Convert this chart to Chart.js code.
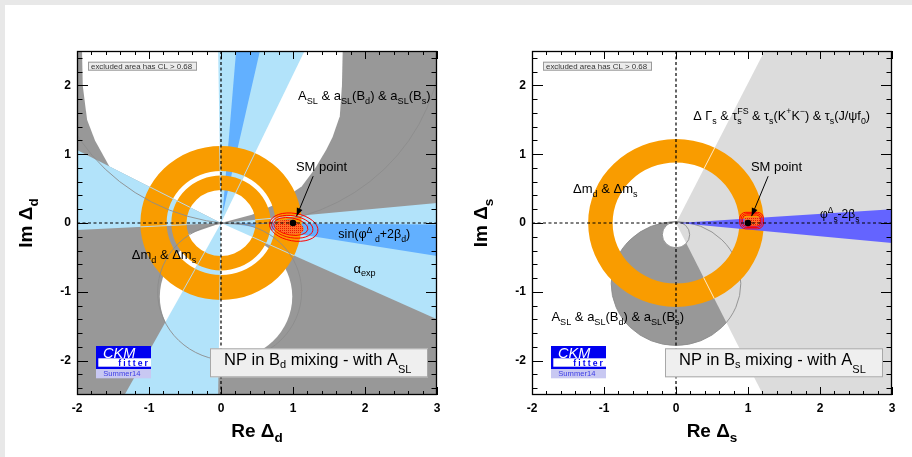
<!DOCTYPE html>
<html>
<head>
<meta charset="utf-8">
<script src="https://cdn.jsdelivr.net/npm/chart.js@4/dist/chart.umd.min.js"></script>
<style>
  html, body { margin: 0; padding: 0; background: #e8e8e8; }
  #sheet { position: absolute; left: 5px; top: 5px; width: 907px; height: 452px; background: #fff; }
  canvas { position: absolute; top: 0; }
  #bd { left: 0; }
  #bs { left: 455px; }
</style>
</head>
<body>
<div id="sheet"></div>
<canvas id="bd" width="456" height="457"></canvas>
<canvas id="bs" width="456" height="457"></canvas>
<script>
// ---- axes ----
const xTicks = [-2, -1, 0, 1, 2, 3];
const yTicks = [-2, -1, 0, 1, 2];
const xRange = [-2, 3];
const yRange = [-2.5, 2.5];
const smPoint = [{ x: 1, y: 0 }];
const smArrow = [[1.28, 0.68], [1.05, 0.1]];

// ---- B_d panel constraints ----
const bdAllowedUpper = [[-1.93, 2.5], [1.69, 2.5], [1.68, 2.0], [1.65, 1.55], [1.55, 1.25], [1.46, 1.06],
  [1.3, 0.78], [1.12, 0.53], [0.75, 0.27], [0.43, 0.12], [0, 0], [-1.55, 0.82], [-1.75, 1.2], [-1.86, 1.5], [-1.92, 2.0]];
const bdAllowedLowerDisc = [0.07, -1.07, 0.92];
const bdAllowedLowerApex = [[0, 0], [-0.52, -0.19], [-0.55, -0.5], [0.55, -0.5], [0.6, -0.16]];
const bdAlphaWedges = [
  [[0, 0], [-2, 1.06], [-2, -0.1]],
  [[0, 0], [3, 0.29], [3, -1.4]],
  [[0, 0], [-0.04, 2.5], [1.16, 2.5]],
  [[0, 0], [-1.34, -2.5], [-0.04, -2.5]]
];
const bdSin2betaWedges = [
  [[0.02, 0.12], [0.21, 2.5], [0.54, 2.5]],
  [[0.1, 0], [3, -0.02], [3, -0.48]]
];
const bdMixingRings = [[1.12, 0.755], [0.69, 0.48]];
const bdAslOutlines = [[0.33, 2.72, 2.74], [0.12, -1.0, 1.0]];
const bdCore = [0.95, -0.06, 0.2, 0.1];
const bdContours = [[1.01, -0.06, 0.34, 0.2], [0.99, -0.055, 0.29, 0.16], [0.97, -0.05, 0.24, 0.125]];

// ---- B_s panel constraints ----
const bsLifetimeWedge = [[0, 0], [1.23, 2.5], [3, 2.5], [3, -2.5], [1.21, -2.5]];
const bsAslDisc = [0, -0.88, 0.9];
const bsAslHole = [0, -0.17, 0.19];
const bsMixingRing = [1.22, 0.88];
const bsPhaseWedge = [[0.03, 0], [3, 0.2], [3, -0.29]];
const bsCore = [0.95, 1.17, -0.045, 0.085];
const bsContours = [[0.885, 1.215, -0.085, 0.155], [0.905, 1.195, -0.065, 0.135], [0.925, 1.175, -0.047, 0.115]];

const FONT = '"Liberation Sans", Arial, Helvetica, sans-serif';
const GRAY = '#989898';
const LIGHT_BLUE = '#b2e3fa';
const MID_BLUE = '#62b0ff';
const ORANGE = '#f99c00';
const LIGHT_GRAY = '#dcdcdc';
const PHASE_BLUE = '#6464ff';
const OUTLINE = '#8c8c8c';

// small red/orange cross-hatch for the best-fit core
function makeHatch() {
  const c = document.createElement('canvas');
  c.width = 2; c.height = 2;
  const g = c.getContext('2d');
  g.fillStyle = '#ff6f2a'; g.fillRect(0, 0, 2, 2);
  g.fillStyle = '#e81a00'; g.fillRect(0, 0, 1, 1);
  return c;
}
const hatchCanvas = makeHatch();

// ---- rich text (sub/superscripts) ----
function partsWidth(ctx, parts, size, weight) {
  let w = 0;
  parts.forEach(p => {
    if (p.t) { ctx.font = `${weight} ${size}px ${FONT}`; w += ctx.measureText(p.t).width; }
    ctx.font = `${weight} ${p.ss || size * 0.7}px ${FONT}`;
    w += Math.max(p.sub ? ctx.measureText(p.sub).width : 0, p.sup ? ctx.measureText(p.sup).width : 0);
  });
  return w;
}

function drawRich(ctx, parts, x, y, size, weight = 'normal', align = 'left') {
  if (align === 'center') x -= partsWidth(ctx, parts, size, weight) / 2;
  ctx.textAlign = 'left';
  ctx.textBaseline = 'alphabetic';
  parts.forEach(p => {
    if (p.t) {
      ctx.font = `${weight} ${size}px ${FONT}`;
      ctx.fillText(p.t, x, y);
      x += ctx.measureText(p.t).width;
    }
    ctx.font = `${weight} ${p.ss || size * 0.7}px ${FONT}`;
    let adv = 0;
    if (p.sub) {
      ctx.fillText(p.sub, x, y + (p.dy != null ? p.dy : size * 0.3));
      adv = ctx.measureText(p.sub).width;
    }
    if (p.sup) {
      ctx.fillText(p.sup, x, y - size * 0.42);
      adv = Math.max(adv, ctx.measureText(p.sup).width);
    }
    x += adv;
  });
}

// ---- region drawing through the chart scales ----
function tracePoly(ctx, sx, sy, pts) {
  ctx.beginPath();
  pts.forEach(([vx, vy], i) => {
    const X = sx.getPixelForValue(vx), Y = sy.getPixelForValue(vy);
    if (i) ctx.lineTo(X, Y); else ctx.moveTo(X, Y);
  });
  ctx.closePath();
}

function addEllipse(ctx, sx, sy, cx, cy, rx, ry, rot = 0) {
  const X = sx.getPixelForValue(cx), Y = sy.getPixelForValue(cy);
  const RX = Math.abs(sx.getPixelForValue(cx + rx) - X);
  const RY = Math.abs(sy.getPixelForValue(cy + ry) - Y);
  ctx.moveTo(X + RX * Math.cos(rot), Y + RX * Math.sin(rot));
  ctx.ellipse(X, Y, RX, RY, rot, 0, Math.PI * 2);
}

function ringPath(ctx, sx, sy, radii) {
  ctx.beginPath();
  addEllipse(ctx, sx, sy, 0, 0, radii[0], radii[0]);
  addEllipse(ctx, sx, sy, 0, 0, radii[1], radii[1]);
}

function paint(ctx, layer) {
  if (layer.fill) {
    ctx.fillStyle = layer.fill === 'hatch' ? ctx.createPattern(hatchCanvas, 'repeat') : layer.fill;
    ctx.fill(layer.kind === 'ring' ? 'evenodd' : 'nonzero');
  }
  if (layer.stroke) {
    ctx.strokeStyle = layer.stroke;
    ctx.lineWidth = layer.lw || 1;
    ctx.stroke();
  }
}

function drawLayer(ctx, sx, sy, a, layer) {
  const deg = Math.PI / 180;
  switch (layer.kind) {
    case 'area':
      ctx.fillStyle = layer.fill;
      ctx.fillRect(a.left, a.top, a.right - a.left, a.bottom - a.top);
      break;
    case 'poly':
      tracePoly(ctx, sx, sy, layer.pts);
      paint(ctx, layer);
      break;
    case 'disc':
      ctx.beginPath();
      addEllipse(ctx, sx, sy, layer.c[0], layer.c[1], layer.c[2], layer.c[2]);
      paint(ctx, layer);
      break;
    case 'ring':
      ringPath(ctx, sx, sy, layer.radii);
      paint(ctx, layer);
      break;
    case 'ellipse':
      ctx.beginPath();
      addEllipse(ctx, sx, sy, layer.e[0], layer.e[1], layer.e[2], layer.e[3], (layer.rot || 0) * deg);
      paint(ctx, layer);
      break;
    case 'box': {
      const [x0, x1, y0, y1] = layer.b;
      const L = sx.getPixelForValue(x0), R = sx.getPixelForValue(x1);
      const T = sy.getPixelForValue(y1), B = sy.getPixelForValue(y0);
      ctx.beginPath();
      ctx.roundRect(L, T, R - L, B - T, layer.radius || 4);
      paint(ctx, layer);
      break;
    }
    case 'edges':
      // wedge borders, only where they cross the mixing rings
      ctx.save();
      ringPath(ctx, sx, sy, layer.radii);
      ctx.clip('evenodd');
      ctx.strokeStyle = layer.stroke;
      ctx.lineWidth = 1;
      layer.polys.forEach(p => {
        const apex = p[0];
        [p[1], p[p.length - 1]].forEach(end => {
          ctx.beginPath();
          ctx.moveTo(sx.getPixelForValue(apex[0]), sy.getPixelForValue(apex[1]));
          ctx.lineTo(sx.getPixelForValue(end[0]), sy.getPixelForValue(end[1]));
          ctx.stroke();
        });
      });
      ctx.restore();
      break;
  }
}

function line(ctx, x0, y0, x1, y1) {
  ctx.beginPath(); ctx.moveTo(x0, y0); ctx.lineTo(x1, y1); ctx.stroke();
}

function drawTicks(ctx, a, sx, sy) {
  ctx.strokeStyle = '#000';
  ctx.lineWidth = 1;
  for (let i = -10; i <= 15; i++) {
    const v = i / 5, major = i % 5 === 0, len = major ? 8 : 4;
    const X = Math.round(sx.getPixelForValue(v)) + 0.5;
    line(ctx, X, a.bottom, X, a.bottom - len);
    line(ctx, X, a.top, X, a.top + len);
  }
  for (let i = -12; i <= 12; i++) {
    const v = i / 5, major = i % 5 === 0, len = major ? 11 : 5.5;
    const Y = Math.round(sy.getPixelForValue(v)) + 0.5;
    line(ctx, a.left, Y, a.left + len, Y);
    line(ctx, a.right, Y, a.right - len, Y);
  }
  ctx.lineWidth = 1.3;
  ctx.strokeRect(a.left + 0.5, a.top + 0.5, a.right - a.left - 1, a.bottom - a.top - 1);
}

function drawLogo(ctx, L, T) {
  ctx.fillStyle = '#0000f0';
  ctx.fillRect(L + 19, T + 295, 55, 23);
  ctx.fillStyle = '#fff';
  ctx.fillRect(L + 21.3, T + 307.3, 52.7, 8.4);
  ctx.fillStyle = '#c8c8f2';
  ctx.fillRect(L + 19, T + 318, 55, 9.3);
  ctx.textAlign = 'left';
  ctx.textBaseline = 'alphabetic';
  ctx.fillStyle = '#fff';
  ctx.font = `italic 14.5px ${FONT}`;
  ctx.fillText('CKM', L + 26, T + 306.6);
  ctx.fillStyle = '#0000f0';
  ctx.font = `bold 8.6px ${FONT}`;
  let fx = L + 41.3;
  for (const ch of 'fitter') { ctx.fillText(ch, fx, T + 314.6); fx += ctx.measureText(ch).width + 2.1; }
  ctx.fillStyle = '#3c3ce6';
  ctx.font = `7.6px ${FONT}`;
  ctx.fillText('Summer14', L + 26.3, T + 324.8);
}

// per-panel plugins keep their drawing lists in closures
function regionsPlugin(layers) {
  return {
    id: 'regions',
    beforeDatasetsDraw(chart) {
      const { ctx, chartArea: a, scales: { x: sx, y: sy } } = chart;
      ctx.save();
      ctx.beginPath();
      ctx.rect(a.left, a.top, a.right - a.left, a.bottom - a.top);
      ctx.clip();
      layers.forEach(layer => drawLayer(ctx, sx, sy, a, layer));
      ctx.restore();
    }
  };
}

function overlayPlugin(o) {
  return {
    id: 'panelOverlay',
    afterDatasetsDraw(chart) {
      const { ctx, chartArea: a, scales: { x: sx, y: sy } } = chart;
      ctx.save();

      // SM point arrow
      const [p0, p1] = smArrow.map(([vx, vy]) => [sx.getPixelForValue(vx), sy.getPixelForValue(vy)]);
      ctx.strokeStyle = '#000'; ctx.fillStyle = '#000'; ctx.lineWidth = 1;
      line(ctx, p0[0], p0[1], p1[0], p1[1]);
      const ang = Math.atan2(p1[1] - p0[1], p1[0] - p0[0]);
      ctx.beginPath();
      ctx.moveTo(p1[0], p1[1]);
      ctx.lineTo(p1[0] - 8 * Math.cos(ang) + 3 * Math.sin(ang), p1[1] - 8 * Math.sin(ang) - 3 * Math.cos(ang));
      ctx.lineTo(p1[0] - 8 * Math.cos(ang) - 3 * Math.sin(ang), p1[1] - 8 * Math.sin(ang) + 3 * Math.cos(ang));
      ctx.closePath();
      ctx.fill();

      // constraint labels
      ctx.fillStyle = '#000';
      o.labels.forEach(l => drawRich(ctx, l.parts, sx.getPixelForValue(l.at[0]), sy.getPixelForValue(l.at[1]), l.size));

      drawTicks(ctx, a, sx, sy);

      // CL legend box
      ctx.fillStyle = '#ececec';
      ctx.fillRect(a.left + 11, a.top + 10.7, 109, 9);
      ctx.strokeStyle = '#9a9a9a'; ctx.lineWidth = 1;
      ctx.strokeRect(a.left + 11.5, a.top + 11.2, 108, 8);
      ctx.fillStyle = '#333';
      ctx.font = `7.9px ${FONT}`;
      ctx.textAlign = 'left'; ctx.textBaseline = 'alphabetic';
      ctx.fillText('excluded area has CL > 0.68', a.left + 14, a.top + 17.6);

      drawLogo(ctx, a.left, a.top);

      // panel title box
      ctx.fillStyle = '#efefef';
      ctx.fillRect(a.left + 133, a.top + 297.3, 218, 29);
      ctx.strokeStyle = '#a8a8a8';
      ctx.strokeRect(a.left + 133.5, a.top + 297.8, 217, 28);
      ctx.fillStyle = '#000';
      drawRich(ctx, o.title, a.left + 147, a.top + 314, 16.5);

      // axis titles
      drawRich(ctx, o.xTitle, (a.left + a.right) / 2, a.bottom + 41.7, 19, 'bold', 'center');
      ctx.translate(a.left - 45, (a.top + a.bottom) / 2);
      ctx.rotate(-Math.PI / 2);
      drawRich(ctx, o.yTitle, 0, 0, 19, 'bold', 'center');

      ctx.restore();
    }
  };
}

const aslParts = [{ t: 'A', sub: 'SL' }, { t: ' & a', sub: 'SL' }, { t: '(B', sub: 'd' }, { t: ') & a', sub: 'SL' }, { t: '(B', sub: 's' }, { t: ')' }];

function makePanel(id, layers, labels, flavour) {
  const tickFont = { family: FONT, weight: 'bold', size: 12 };
  return new Chart(document.getElementById(id), {
    type: 'scatter',
    data: {
      datasets: [
        { data: [{ x: xRange[0], y: 0 }, { x: xRange[1], y: 0 }], showLine: true, borderColor: '#000',
          borderWidth: 1.2, borderDash: [3, 2.5], pointRadius: 0 },
        { data: [{ x: 0, y: yRange[0] }, { x: 0, y: yRange[1] }], showLine: true, borderColor: '#000',
          borderWidth: 1.2, borderDash: [3, 2.5], pointRadius: 0 },
        { data: smPoint, pointRadius: 3.3, backgroundColor: '#000', borderColor: '#000', borderWidth: 0 }
      ]
    },
    options: {
      responsive: false,
      animation: false,
      devicePixelRatio: 1,
      events: [],
      layout: { padding: { left: 0, right: 19, top: 51, bottom: 0 } },
      plugins: { legend: { display: false }, tooltip: { enabled: false } },
      scales: {
        x: {
          type: 'linear', min: xRange[0], max: xRange[1],
          afterBuildTicks: s => { s.ticks = xTicks.map(v => ({ value: v })); },
          afterFit: s => { s.height = 62; },
          grid: { display: false, drawTicks: false },
          border: { display: false },
          ticks: { padding: 6, color: '#000', font: tickFont }
        },
        y: {
          type: 'linear', min: yRange[0], max: yRange[1],
          afterBuildTicks: s => { s.ticks = yTicks.map(v => ({ value: v })); },
          afterFit: s => { s.width = 77; },
          grid: { display: false, drawTicks: false },
          border: { display: false },
          ticks: { padding: 6, color: '#000', font: tickFont }
        }
      }
    },
    plugins: [
      regionsPlugin(layers),
      overlayPlugin({
        labels,
        title: [{ t: 'NP in B', sub: flavour, ss: 11, dy: 2.7 }, { t: ' mixing - with A', sub: 'SL', ss: 11, dy: 8.3 }],
        xTitle: [{ t: 'Re Δ', sub: flavour, ss: 13.5, dy: 5.5 }],
        yTitle: [{ t: 'Im Δ', sub: flavour, ss: 13.5, dy: 5.5 }]
      })
    ]
  });
}

// NP in B_d mixing
makePanel('bd', [
  { kind: 'area', fill: GRAY },
  { kind: 'poly', pts: bdAllowedUpper, fill: '#fff' },
  { kind: 'disc', c: bdAllowedLowerDisc, fill: '#fff' },
  { kind: 'poly', pts: bdAllowedLowerApex, fill: '#fff' },
  ...bdAlphaWedges.map(p => ({ kind: 'poly', pts: p, fill: LIGHT_BLUE })),
  ...bdSin2betaWedges.map(p => ({ kind: 'poly', pts: p, fill: MID_BLUE })),
  ...bdMixingRings.map(r => ({ kind: 'ring', radii: r, fill: ORANGE })),
  { kind: 'edges', polys: bdAlphaWedges, radii: [bdMixingRings[0][0], bdMixingRings[1][1]], stroke: '#b9d9ea' },
  ...bdAslOutlines.map(c => ({ kind: 'disc', c, stroke: OUTLINE, lw: 0.9 })),
  { kind: 'ellipse', e: bdCore, rot: 10, fill: 'hatch' },
  ...bdContours.map(e => ({ kind: 'ellipse', e, rot: 10, stroke: '#ff0000' }))
], [
  { at: [1.07, 1.79], size: 13, parts: aslParts },
  { at: [1.04, 0.76], size: 13, parts: [{ t: 'SM point' }] },
  { at: [1.63, -0.22], size: 12.5, parts: [{ t: 'sin(φ', sup: 'Δ' }, { sub: ' d' }, { t: '+2β', sub: 'd' }, { t: ')' }] },
  { at: [1.84, -0.72], size: 13, parts: [{ t: 'α', sub: 'exp' }] },
  { at: [-1.24, -0.53], size: 13, parts: [{ t: 'Δm', sub: 'd' }, { t: ' & Δm', sub: 's' }] }
], 'd');

// NP in B_s mixing
makePanel('bs', [
  { kind: 'disc', c: bsAslDisc, fill: GRAY },
  { kind: 'disc', c: bsAslHole, fill: '#fff' },
  { kind: 'poly', pts: bsLifetimeWedge, fill: LIGHT_GRAY },
  { kind: 'disc', c: bsAslDisc, stroke: OUTLINE, lw: 0.9 },
  { kind: 'disc', c: bsAslHole, stroke: OUTLINE, lw: 0.9 },
  { kind: 'ring', radii: bsMixingRing, fill: ORANGE },
  { kind: 'edges', polys: [bsLifetimeWedge], radii: bsMixingRing, stroke: 'rgba(255,255,255,0.8)' },
  { kind: 'poly', pts: bsPhaseWedge, fill: PHASE_BLUE },
  { kind: 'box', b: bsCore, fill: 'hatch', radius: 3 },
  ...bsContours.map((b, i) => ({ kind: 'box', b, stroke: '#ff0000', radius: 6 - i }))
], [
  { at: [0.24, 1.5], size: 12.7, parts: [{ t: 'Δ Γ', sub: 's' }, { t: ' & τ', sub: 's', sup: 'FS' }, { t: ' & τ', sub: 's' },
    { t: '(K', sup: '+' }, { t: 'K', sup: '−' }, { t: ') & τ', sub: 's' }, { t: '(J/ψf', sub: '0' }, { t: ')' }] },
  { at: [-1.43, 0.43], size: 13, parts: [{ t: 'Δm', sub: 'd' }, { t: ' & Δm', sub: 's' }] },
  { at: [1.04, 0.76], size: 13, parts: [{ t: 'SM point' }] },
  { at: [2.0, 0.07], size: 12, parts: [{ t: 'φ', sup: 'Δ' }, { sub: 's' }, { t: '-2β', sub: 's' }] },
  { at: [-1.73, -1.43], size: 13, parts: aslParts }
], 's');
</script>
</body>
</html>
